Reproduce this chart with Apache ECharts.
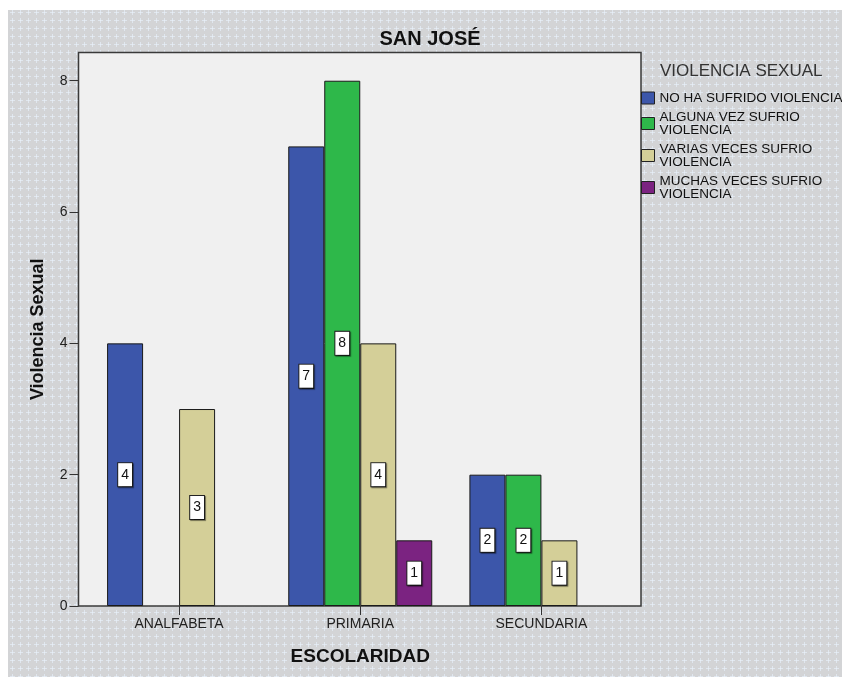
<!DOCTYPE html>
<html>
<head>
<meta charset="utf-8">
<title>San José - Violencia Sexual</title>
<script src="https://cdn.jsdelivr.net/npm/echarts@6/dist/echarts.min.js"></script>
<style>
  html, body { margin: 0; padding: 0; background: #ffffff; }
  #chart { width: 842px; height: 677px; }
</style>
</head>
<body>
<div id="chart"></div>
<script>
// Categories (escolaridad)
const categories = ['ANALFABETA', 'PRIMARIA', 'SECUNDARIA'];

// Counts per category for each level of sexual violence
const noHaSufrido = [4, 7, 2];
const algunaVez = [null, 8, 2];
const variasVeces = [3, 4, 1];
const muchasVeces = [null, 1, null];

// Series names and the legend text (wrapped)
const seriesNames = [
  'NO HA SUFRIDO VIOLENCIA',
  'ALGUNA VEZ SUFRIO VIOLENCIA',
  'VARIAS VECES SUFRIO VIOLENCIA',
  'MUCHAS VECES SUFRIO VIOLENCIA'
];
const legendText = [
  'NO HA SUFRIDO VIOLENCIA',
  'ALGUNA VEZ SUFRIO\nVIOLENCIA',
  'VARIAS VECES SUFRIO\nVIOLENCIA',
  'MUCHAS VECES SUFRIO\nVIOLENCIA'
];
const seriesColors = ['#3c56aa', '#2eb84a', '#d4cf98', '#7b2381'];

// Y axis ticks
const yTicks = [0, 2, 4, 6, 8];

const FONT = 'Arial, "Liberation Sans", sans-serif';

// Plot frame geometry
const frame = { x: 78.5, y: 52.5, w: 562.5, h: 553.5 };

// Small tiled texture for the panel background
function makePattern() {
  const c = document.createElement('canvas');
  c.width = 8; c.height = 8;
  const g = c.getContext('2d');
  g.fillStyle = '#d3d4d6';
  g.fillRect(0, 0, 8, 8);
  g.fillStyle = '#e0e7ef';
  g.fillRect(4, 2, 1, 5);
  g.fillRect(2, 4, 5, 1);
  g.fillStyle = '#e8eef5';
  g.fillRect(4, 4, 1, 1);
  return c;
}

const chart = echarts.init(document.getElementById('chart'), null, { renderer: 'canvas' });

const allSeries = [noHaSufrido, algunaVez, variasVeces, muchasVeces];

const option = {
  animation: false,
  backgroundColor: '#ffffff',
  textStyle: { fontFamily: FONT },
  graphic: [
    {
      type: 'rect',
      z: -20,
      silent: true,
      shape: { x: 8, y: 10, width: 834, height: 667 },
      style: { fill: { image: makePattern(), repeat: 'repeat' } }
    },
    {
      type: 'rect',
      z: -10,
      silent: true,
      shape: { x: frame.x, y: frame.y, width: frame.w, height: frame.h },
      style: { fill: '#f0f0f0', stroke: '#3a3a3a', lineWidth: 1.5 }
    },
    {
      type: 'text',
      z: 10,
      style: {
        x: 430, y: 39, text: 'SAN JOSÉ',
        textAlign: 'center', textVerticalAlign: 'middle',
        font: 'bold 20px ' + FONT, fill: '#111'
      }
    },
    {
      type: 'text',
      z: 10,
      style: {
        x: 660, y: 71, text: 'VIOLENCIA SEXUAL',
        textAlign: 'left', textVerticalAlign: 'middle',
        font: '17px ' + FONT, fill: '#333'
      }
    }
  ],
  legend: {
    orient: 'vertical',
    left: 641,
    top: 91,
    padding: 0,
    itemGap: 5,
    itemWidth: 13,
    itemHeight: 12,
    icon: 'rect',
    itemStyle: { borderColor: '#222', borderWidth: 1 },
    textStyle: { fontSize: 13.5, lineHeight: 13, color: '#111', fontFamily: FONT },
    formatter: function (name) {
      return legendText[seriesNames.indexOf(name)];
    },
    data: seriesNames
  },
  grid: {
    left: 88.5,
    right: 842 - 632,
    top: 52.5,
    bottom: 677 - 606,
    containLabel: false
  },
  xAxis: {
    type: 'category',
    data: categories,
    name: 'ESCOLARIDAD',
    nameLocation: 'middle',
    nameGap: 41,
    nameTextStyle: { fontSize: 19, fontWeight: 'bold', color: '#111', fontFamily: FONT },
    axisLine: { show: false },
    axisTick: { show: true, alignWithLabel: true, length: 9, lineStyle: { color: '#333' } },
    axisLabel: { fontSize: 14, color: '#222', margin: 11, fontFamily: FONT }
  },
  yAxis: {
    type: 'value',
    min: yTicks[0],
    max: 8.43,
    interval: yTicks[1] - yTicks[0],
    offset: 10,
    name: 'Violencia Sexual',
    nameLocation: 'middle',
    nameGap: 31,
    nameTextStyle: { fontSize: 18, fontWeight: 'bold', color: '#111', fontFamily: FONT },
    splitLine: { show: false },
    axisLine: { show: false },
    axisTick: { show: true, length: 9, lineStyle: { color: '#333' } },
    axisLabel: {
      fontSize: 14, color: '#222', margin: 11, fontFamily: FONT,
      showMaxLabel: false,
      formatter: function (v) { return yTicks.indexOf(v) >= 0 ? String(v) : ''; }
    }
  },
  series: allSeries.map(function (vals, i) {
    return {
      name: seriesNames[i],
      type: 'bar',
      data: vals,
      barWidth: 36,
      barGap: '0%',
      itemStyle: { color: seriesColors[i], borderColor: '#1a1a1a', borderWidth: 1 },
      label: {
        show: true,
        position: 'inside',
        formatter: '{c}',
        fontSize: 14,
        color: '#111',
        fontFamily: FONT,
        backgroundColor: '#ffffff',
        borderColor: '#222',
        borderWidth: 1,
        padding: [5, 3, 4, 3],
        shadowColor: 'rgba(0,0,0,0.45)',
        shadowBlur: 1,
        shadowOffsetX: 1,
        shadowOffsetY: 1
      }
    };
  })
};

chart.setOption(option);
</script>
</body>
</html>
